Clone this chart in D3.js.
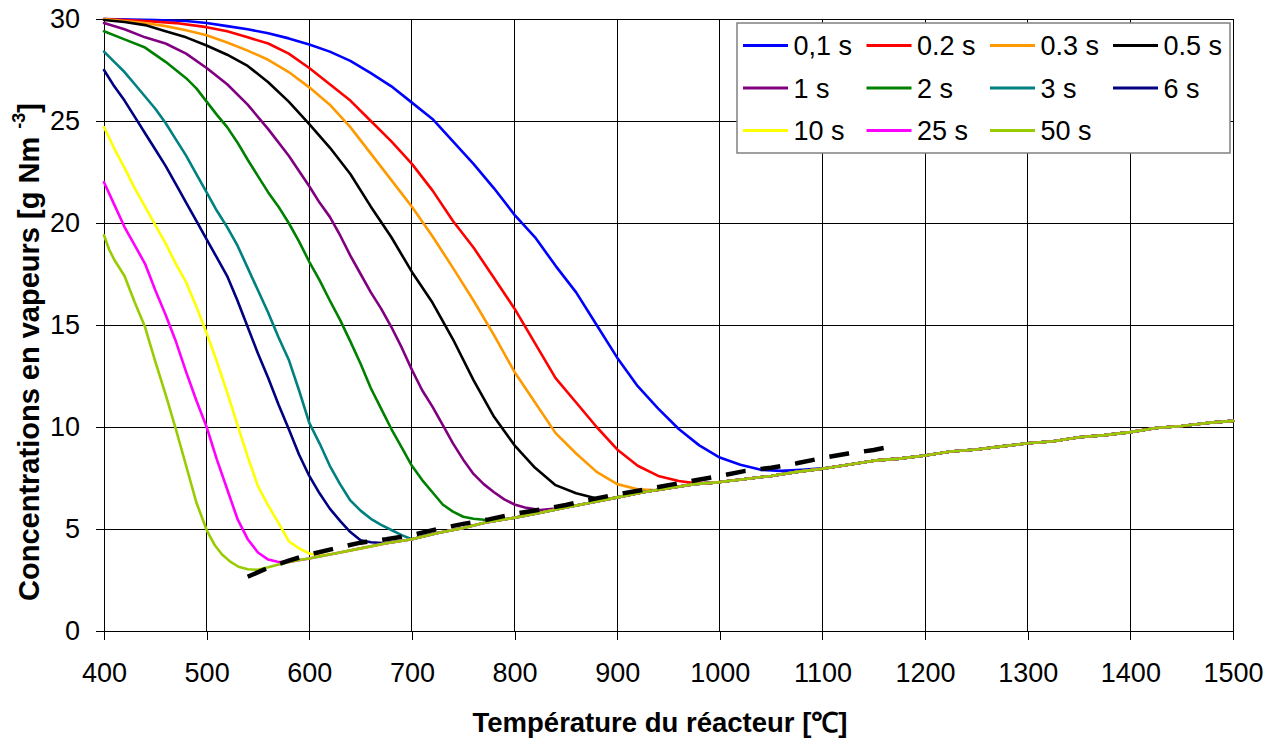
<!DOCTYPE html>
<html>
<head>
<meta charset="utf-8">
<script src="https://cdn.jsdelivr.net/npm/d3@7"></script>
<style>
  html, body { margin: 0; padding: 0; background: #fff; }
  svg { display: block; font-family: "Liberation Sans", Arial, sans-serif; }
</style>
</head>
<body>
<svg id="chart" width="1278" height="742"></svg>
<script>
// ---------- DATA ----------
const seriesNames = ["0,1 s", "0.2 s", "0.3 s", "0.5 s", "1 s", "2 s", "3 s", "6 s", "10 s", "25 s", "50 s"];
const seriesColors = ["#0000FF", "#FF0000", "#FF9900", "#000000", "#800080", "#008000", "#008080", "#000080", "#FFFF00", "#FF00FF", "#99CC00"];

const xTicks = [400, 500, 600, 700, 800, 900, 1000, 1100, 1200, 1300, 1400, 1500];
const yTicks = [0, 5, 10, 15, 20, 25, 30];

// common high-temperature branch shared by all residence times
const baseline = [[600,3.55],[625,3.8],[650,4.05],[675,4.3],[700,4.5],[725,4.8],[750,5.05],[775,5.35],[800,5.55],[825,5.8],[850,6.05],[875,6.3],[900,6.55],[925,6.8],[950,7.0],[975,7.2],[1000,7.3],[1025,7.45],[1050,7.6],[1075,7.8],[1100,7.95],[1125,8.15],[1150,8.35],[1175,8.45],[1200,8.6],[1225,8.8],[1250,8.9],[1275,9.05],[1300,9.2],[1325,9.3],[1350,9.5],[1375,9.6],[1400,9.75],[1425,9.95],[1450,10.05],[1475,10.2],[1500,10.3]];

const s01 = [[400,30.0],[450,29.95],[480,29.9],[500,29.8],[520,29.65],[540,29.5],[560,29.3],[580,29.05],[600,28.75],[620,28.4],[640,27.95],[660,27.35],[680,26.7],[700,25.9],[720,25.1],[740,24.0],[760,22.9],[780,21.7],[800,20.4],[820,19.3],[840,17.9],[860,16.6],[880,15.0],[900,13.4],[920,12.0],[940,10.9],[960,9.9],[980,9.1],[1000,8.5],[1020,8.15],[1040,7.9],[1060,7.85],[1080,7.9],[1100,7.97]];
const s02 = [[400,30.0],[440,29.9],[470,29.8],[500,29.6],[520,29.4],[540,29.1],[560,28.8],[580,28.3],[600,27.6],[620,26.8],[640,26.0],[660,25.0],[680,24.0],[700,22.9],[720,21.6],[740,20.1],[760,18.8],[780,17.3],[800,15.8],[820,14.1],[840,12.4],[860,11.2],[880,10.0],[900,8.9],[920,8.1],[940,7.6],[960,7.35],[975,7.25],[990,7.25]];
const s03 = [[400,30.0],[420,29.9],[440,29.8],[460,29.65],[480,29.45],[500,29.2],[520,28.85],[540,28.45],[560,28.0],[580,27.4],[600,26.65],[620,25.8],[640,24.7],[660,23.4],[680,22.1],[700,20.8],[720,19.35],[740,17.8],[760,16.2],[780,14.5],[800,12.7],[820,11.2],[840,9.7],[860,8.7],[880,7.8],[900,7.2],[920,6.95],[940,6.9]];
const s05 = [[400,29.95],[420,29.85],[440,29.7],[460,29.4],[480,29.1],[500,28.7],[520,28.25],[540,27.7],[560,26.9],[580,25.95],[600,24.85],[620,23.7],[640,22.4],[660,20.8],[680,19.3],[700,17.6],[720,16.1],[740,14.3],[760,12.3],[780,10.5],[800,9.1],[820,8.0],[840,7.15],[860,6.75],[880,6.5],[890,6.45]];
const s1 = [[400,29.8],[420,29.5],[440,29.1],[460,28.8],[480,28.3],[500,27.6],[520,26.8],[540,25.8],[560,24.6],[580,23.3],[600,21.8],[610,21.0],[620,20.3],[630,19.4],[640,18.4],[650,17.5],[660,16.6],[670,15.8],[680,14.9],[690,13.9],[700,12.8],[710,11.8],[720,11.0],[730,10.1],[740,9.2],[750,8.4],[760,7.7],[770,7.2],[780,6.8],[790,6.45],[800,6.2],[810,6.05],[825,5.93]];
const s2 = [[400,29.4],[420,29.0],[440,28.6],[460,27.9],[480,27.1],[490,26.6],[500,25.95],[510,25.3],[520,24.7],[530,23.95],[540,23.1],[550,22.3],[560,21.5],[570,20.8],[580,20.0],[590,19.1],[600,18.1],[610,17.2],[620,16.2],[630,15.25],[640,14.2],[650,13.1],[660,11.9],[670,10.9],[680,9.9],[690,9.0],[700,8.1],[710,7.4],[720,6.8],[730,6.2],[740,5.85],[750,5.6],[760,5.5],[770,5.45]];
const s3 = [[400,28.4],[410,27.9],[420,27.4],[430,26.8],[440,26.2],[450,25.6],[460,24.9],[470,24.1],[480,23.3],[490,22.4],[500,21.5],[510,20.6],[520,19.8],[530,18.9],[540,17.8],[550,16.7],[560,15.6],[570,14.4],[580,13.3],[590,11.8],[600,10.2],[610,9.2],[620,8.1],[630,7.2],[640,6.4],[650,5.9],[660,5.5],[670,5.2],[680,4.95],[690,4.7]];
const s6 = [[400,27.5],[410,26.7],[420,26.0],[430,25.2],[440,24.4],[450,23.6],[460,22.8],[470,21.9],[480,21.0],[490,20.1],[500,19.2],[510,18.3],[520,17.4],[530,16.2],[540,14.9],[550,13.6],[560,12.4],[570,11.1],[580,9.9],[590,8.65],[600,7.6],[610,6.75],[620,6.0],[630,5.4],[640,4.85],[650,4.45],[660,4.35]];
const s10 = [[400,24.7],[410,23.65],[420,22.7],[430,21.7],[440,20.8],[450,19.9],[460,19.0],[470,18.0],[480,17.1],[490,15.9],[500,14.6],[510,13.2],[520,11.7],[530,10.1],[540,8.55],[550,7.1],[560,6.15],[570,5.3],[580,4.4],[590,4.05],[600,3.8],[610,3.7]];
const s25 = [[400,22.0],[410,20.9],[420,19.8],[430,18.9],[440,18.0],[450,16.7],[460,15.5],[470,14.2],[480,12.7],[490,11.3],[500,10.0],[510,8.4],[520,6.95],[530,5.5],[540,4.5],[550,3.85],[560,3.5],[570,3.38],[580,3.38]];
const s50 = [[400,19.4],[405,18.7],[410,18.2],[420,17.4],[430,16.1],[440,14.9],[450,13.2],[460,11.6],[470,9.9],[480,8.1],[490,6.3],[500,4.95],[508,4.2],[515,3.75],[523,3.4],[531,3.15],[540,3.03],[550,3.0],[560,3.12],[573,3.3],[586,3.45]];

// dashed envelope through the minima
const minimaLine = [[540,2.66],[560,3.1],[580,3.45],[600,3.75],[625,4.05],[650,4.33],[675,4.5],[700,4.7],[725,5.0],[750,5.25],[775,5.47],[800,5.75],[825,5.95],[850,6.18],[875,6.45],[900,6.7],[925,6.92],[950,7.15],[975,7.38],[1000,7.6],[1025,7.85],[1050,8.0],[1075,8.22],[1100,8.48],[1125,8.7],[1150,8.87],[1170,9.08]];

const seriesHeads = [s01, s02, s03, s05, s1, s2, s3, s6, s10, s25, s50];

// ---------- CHART ----------
const svg = d3.select("#chart");
const x = d3.scaleLinear().domain([400, 1500]).range([104, 1233]);
const y = d3.scaleLinear().domain([0, 30]).range([631, 19]);

// grid
const grid = svg.append("g").attr("shape-rendering", "crispEdges");
grid.selectAll("line.v").data(xTicks.slice(1)).enter().append("line")
  .attr("x1", d => x(d)).attr("x2", d => x(d)).attr("y1", y(0)).attr("y2", y(30))
  .attr("stroke", "#000").attr("stroke-width", 1);
grid.selectAll("line.h").data(yTicks.slice(1)).enter().append("line")
  .attr("x1", x(400)).attr("x2", x(1500)).attr("y1", d => y(d)).attr("y2", d => y(d))
  .attr("stroke", "#000").attr("stroke-width", 1);

// axes
const xAxis = d3.axisBottom(x).tickValues(xTicks).tickSize(9).tickSizeOuter(0).tickPadding(23).tickFormat(d3.format("d"));
const yAxis = d3.axisLeft(y).tickValues(yTicks).tickSize(8).tickSizeOuter(0).tickPadding(16).tickFormat(d3.format("d"));
const gx = svg.append("g").attr("transform", `translate(0,${y(0)})`).attr("shape-rendering", "crispEdges").call(xAxis);
const gy = svg.append("g").attr("transform", `translate(${x(400)},0)`).attr("shape-rendering", "crispEdges").call(yAxis);
[gx, gy].forEach(g => {
  g.select(".domain").attr("stroke", "#000").attr("stroke-width", 1);
  g.selectAll(".tick line").attr("stroke", "#000");
  g.selectAll(".tick text").attr("font-size", 27).attr("fill", "#000")
    .attr("font-family", "'Liberation Sans', Arial, sans-serif");
});

// lines
const line = d3.line().x(d => x(d[0])).y(d => y(d[1]));
const plot = svg.append("g");
seriesHeads.forEach((head, i) => {
  const lastX = head[head.length - 1][0];
  const pts = head.concat(baseline.filter(d => d[0] > lastX));
  plot.append("path").datum(pts)
    .attr("d", line).attr("fill", "none")
    .attr("stroke", seriesColors[i]).attr("stroke-width", 2.6)
    .attr("stroke-linejoin", "round").attr("stroke-linecap", "round");
});
plot.append("path").datum(minimaLine)
  .attr("d", line).attr("fill", "none")
  .attr("stroke", "#000").attr("stroke-width", 4.5)
  .attr("stroke-dasharray", "20,15");

// legend
const lg = svg.append("g");
lg.append("rect").attr("x", 737).attr("y", 23).attr("width", 493).attr("height", 130)
  .attr("fill", "#fff").attr("stroke", "#808080").attr("stroke-width", 1.5);
const colX = [743, 866.5, 990, 1113];
const rowY = [45.5, 88, 130.5];
seriesNames.forEach((name, i) => {
  const cx = colX[i % 4], cy = rowY[Math.floor(i / 4)];
  lg.append("line").attr("x1", cx).attr("x2", cx + 45).attr("y1", cy).attr("y2", cy)
    .attr("stroke", seriesColors[i]).attr("stroke-width", 2.8);
  lg.append("text").attr("x", cx + 50.5).attr("y", cy + 9.5)
    .attr("font-size", 27).attr("fill", "#000").text(name);
});

// axis titles
svg.append("text").attr("x", 660).attr("y", 732).attr("text-anchor", "middle")
  .attr("font-size", 27.5).attr("font-weight", "bold").attr("fill", "#000")
  .text("Température du réacteur [℃]");

const yt = svg.append("text").attr("transform", "translate(39,352) rotate(-90)")
  .attr("text-anchor", "middle").attr("font-size", 29).attr("font-weight", "bold").attr("fill", "#000");
yt.append("tspan").text("Concentrations en vapeurs [g Nm ");
yt.append("tspan").attr("font-size", 18).attr("dy", -14).text("-3");
yt.append("tspan").attr("dy", 14).text("]");
</script>
</body>
</html>
